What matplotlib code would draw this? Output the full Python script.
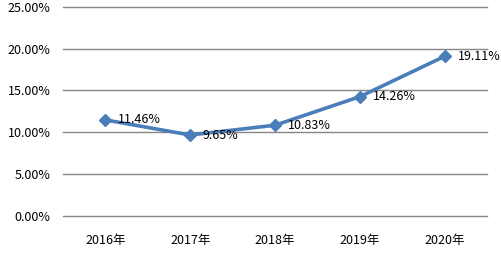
import matplotlib.pyplot as plt
from matplotlib.ticker import FuncFormatter

plt.rcParams['font.family'] = ['Noto Sans CJK SC', 'DejaVu Sans']

years = ['2016年', '2017年', '2018年', '2019年', '2020年']
rates = [11.46, 9.65, 10.83, 14.26, 19.11]
y_ticks = [0, 5, 10, 15, 20, 25]


def main():
    fig = plt.figure(figsize=(5.01, 2.64), dpi=100)
    ax = fig.add_axes([0.1257, 0.1818, 0.8473, 0.7917])

    x = range(len(years))
    ax.plot(x, rates, color='#4A7EBB', linewidth=2.6, marker='D',
            markersize=6, zorder=3)
    for i, v in enumerate(rates):
        ax.annotate(f'{v:.2f}%', (i, v), xytext=(9, 0),
                    textcoords='offset points', va='center', ha='left',
                    fontsize=9, color='#000000')

    ax.set_xlim(-0.5, len(years) - 0.5)
    ax.set_ylim(-0.06, 25)
    ax.set_yticks(y_ticks)
    ax.yaxis.set_major_formatter(FuncFormatter(lambda v, p: f'{v:.2f}%'))
    ax.set_xticks(list(x))
    ax.set_xticklabels(years)
    ax.grid(axis='y', color='#868686', linewidth=1)
    for line in ax.get_ygridlines():
        line.set_clip_on(False)
    ax.set_axisbelow(True)
    for s in ax.spines.values():
        s.set_visible(False)
    ax.tick_params(length=0, labelsize=9, colors='#000000')
    ax.tick_params(axis='y', pad=9)
    ax.tick_params(axis='x', pad=13)

    plt.savefig('out.png', dpi=100)


if __name__ == "__main__":
    main()
